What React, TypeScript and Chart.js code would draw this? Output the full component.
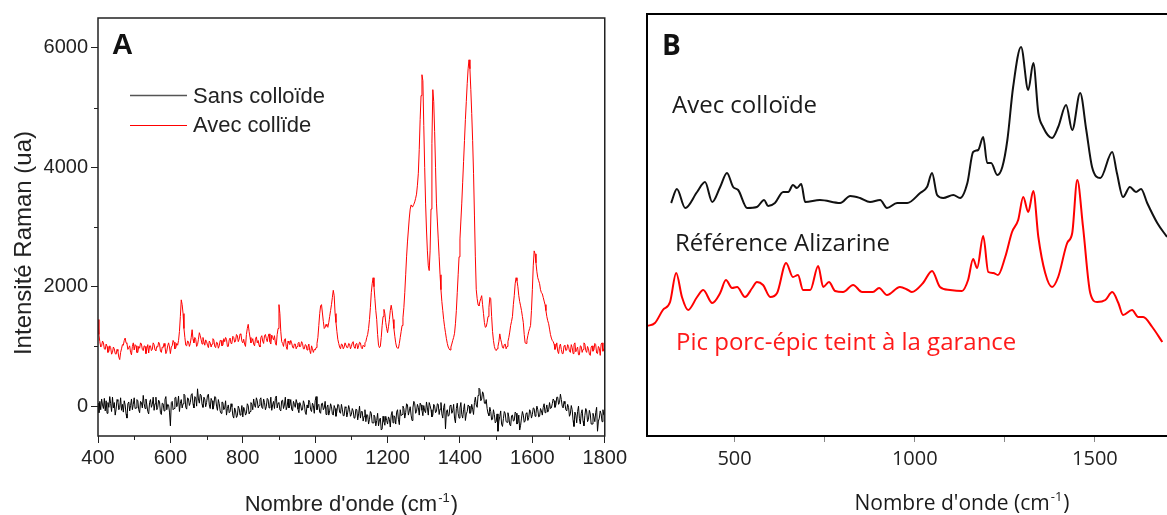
import { useEffect, useRef } from 'react';
import { Chart, registerables } from 'chart.js';

Chart.register(...registerables);

const FONT_A = '"Liberation Sans", Arial, sans-serif';
const FONT_B = '"Open Sans", "Noto Sans", sans-serif';

// ---------- Panel A data (wavenumber grid, 2.5 cm-1 step) ----------
const WAVENUMBER_A: number[] = Array.from({ length: 561 }, (_, i) => 400 + 2.5 * i);

// "Avec collïde" (red), one row = 100 cm-1
const AVEC_A: number[] = [
  1450, 1200, 1080, 990, 1010, 1090, 1060, 960, 950, 1040, 1000, 900, 920, 1010, 980, 870, 900, 990, 960, 880, 870, 950, 920, 820, 780, 900, 960, 1030, 1020, 1100, 1140, 1060, 1050, 950, 980, 1010, 900, 860, 1000, 1060,
  940, 1030, 1010, 900, 900, 1000, 970, 1060, 1040, 950, 930, 1010, 1000, 880, 960, 1030, 890, 1010, 1010, 930, 950, 1060, 1030, 940, 930, 1000, 990, 1070, 1040, 920, 900, 990, 980, 1050, 1000, 880, 920, 1010, 1060, 990,
  880, 990, 1010, 1100, 1070, 960, 980, 1050, 1020, 1100, 1250, 1500, 1780, 1700, 1550, 1300, 1150, 1020, 1010, 1090, 1080, 1000, 1050, 1150, 1280, 1120, 1060, 1150, 1120, 1000, 1030, 1120, 1230, 1180, 1110, 1040, 1150, 1080, 1020, 1110,
  1080, 1020, 980, 1090, 1060, 990, 1040, 1130, 1110, 1000, 980, 1070, 1060, 970, 1010, 1100, 1100, 1010, 1020, 1130, 1080, 1150, 1120, 1000, 1000, 1110, 1140, 1050, 1060, 1170, 1150, 1070, 1090, 1200, 1180, 1080, 1120, 1210, 1200, 1090,
  1060, 1120, 1040, 1000, 1200, 1300, 1370, 1250, 1150, 1060, 1080, 1130, 1040, 1010, 1120, 1160, 1060, 1100, 1020, 990, 1150, 1180, 1090, 1050, 1180, 1200, 1130, 1080, 1160, 1210, 1080, 1040, 1190, 1150, 1110, 1180, 1060, 1020, 1200, 1300,
  1700, 1550, 1250, 1080, 1050, 1000, 1110, 1130, 1000, 950, 1090, 1060, 1030, 1100, 1060, 990, 970, 1040, 1040, 960, 1000, 1050, 1070, 990, 1010, 1080, 1050, 960, 960, 1030, 1020, 940, 990, 1040, 930, 880, 1010, 960, 900, 950,
  940, 980, 1050, 1150, 1350, 1550, 1680, 1700, 1560, 1420, 1300, 1320, 1370, 1340, 1320, 1400, 1500, 1600, 1700, 1820, 1940, 1850, 1550, 1400, 1250, 1120, 1050, 990, 960, 1040, 1030, 960, 990, 1060, 1060, 980, 980, 1050, 1040, 960,
  1000, 1060, 1080, 990, 970, 1040, 1050, 960, 1010, 1070, 1060, 980, 960, 1020, 1000, 1060, 1080, 1150, 1200, 1300, 1450, 1650, 1900, 2050, 2150, 2000, 1800, 1600, 1450, 1200, 1020, 980, 1000, 1150, 1350, 1500, 1620, 1550, 1400, 1300,
  1230, 1330, 1450, 1600, 1690, 1600, 1450, 1300, 1170, 1060, 990, 970, 970, 1050, 1150, 1250, 1350, 1480, 1650, 1900, 2200, 2500, 2750, 2950, 3150, 3300, 3370, 3340, 3350, 3380, 3420, 3480, 3550, 3700, 3900, 4300, 4800, 5200, 5550, 5450,
  4700, 4000, 3400, 2950, 2600, 2350, 2270, 2600, 3300, 4400, 5300, 5100, 4600, 4000, 3400, 3100, 2800, 2500, 2200, 1950, 1750, 1600, 1450, 1330, 1230, 1130, 1050, 990, 960, 940, 990, 1040, 1100, 1150, 1220, 1380, 1600, 1900, 2200, 2500,
  2800, 3100, 3400, 3750, 4100, 4450, 4800, 5100, 5400, 5650, 5800, 5650, 5300, 4900, 4450, 3900, 3200, 2500, 1950, 1800, 1700, 1680, 1750, 1800, 1850, 1700, 1550, 1400, 1320, 1330, 1400, 1500, 1650, 1820, 1800, 1500, 1250, 1100, 1000, 950,
  930, 960, 1000, 1080, 1210, 1120, 1060, 980, 970, 1030, 1040, 960, 1000, 1080, 1150, 1240, 1350, 1420, 1500, 1700, 1850, 2050, 2150, 2100, 2000, 1850, 1750, 1680, 1600, 1500, 1400, 1200, 1060, 1050, 1100, 1180, 1250, 1300, 1350, 1600,
  1950, 2350, 2600, 2550, 2400, 2250, 2150, 2100, 2050, 1950, 1900, 1880, 1820, 1760, 1700, 1600, 1500, 1430, 1380, 1290, 1200, 1140, 1100, 1080, 1040, 950, 990, 1060, 920, 880, 1000, 1040, 950, 880, 880, 1010, 1020, 930, 940, 1030,
  1000, 920, 900, 1030, 980, 880, 1030, 1060, 910, 950, 990, 860, 860, 1010, 1000, 900, 950, 1060, 1040, 930, 900, 1000, 960, 870, 850, 990, 1010, 920, 940, 1050, 1030, 890, 880, 1000, 970, 850, 1040, 1060, 920, 960,
  900,
];

// "Sans colloïde" (black)
const SANS_A: number[] = [
  50, -110, 80, -60, 120, 20, -40, 130, -80, 90, -120, 60, -20, 160, 40, -90, 150, -30, 60, -150, -50, 110, 80, -60, -20, 140, -70, 30, -100, 90, 20, -130, -200, 40, 70, -80, 10, 120, -60, 30,
  140, -40, -30, 110, 90, -60, -110, 80, 60, -30, 180, 40, -40, 120, 20, -90, -130, 60, 110, -20, 30, 150, -70, 40, 150, -60, -20, 100, 70, -110, -140, 50, 40, -80, 110, 160, -60, 30, 20, -100,
  -330, 60, 80, -60, -40, 140, 150, -10, 30, 170, -90, 50, 110, -30, 40, 200, 180, -20, -50, 140, 120, 10, 60, 190, 210, 40, -30, 160, 140, 0, 290, 120, 50, 200, 180, 30, -20, 150, 120, -10,
  60, 180, 200, 20, -40, 130, 90, -50, 10, 160, 150, 0, -70, 110, 40, -80, -120, 70, 60, -60, -30, 90, -150, -40, 20, -110, -90, 40, -10, -160, -200, -30, -80, -190, -160, 0, -40, -150, -110, 10,
  -180, -20, -60, -150, -120, 40, 10, -130, -90, 60, 30, -60, 120, 10, -20, 140, 90, -30, 10, 110, 140, -20, -40, 120, 60, -60, -10, 130, 110, -30, 20, 150, -70, 20, 80, -40, 130, 170, -30, 50,
  60, -60, -80, 90, 100, -40, 20, 150, -60, -10, 120, -30, 10, 110, -50, -80, 80, 30, -20, 110, 50, -50, -110, 60, 20, -70, -60, 90, 40, -100, -140, 20, -30, 100, 60, -60, -90, 50, 10, -120,
  90, 160, -60, 10, 30, -100, -120, 40, 50, -60, -30, 80, -140, -20, 20, -150, -80, 40, -10, -130, -150, 10, -40, -170, -90, 30, 20, -100, -120, 30, -50, -160, -160, -10, -30, -180, -100, 10, -60, -170,
  -140, -40, -80, -200, -190, -50, -60, -230, -130, 0, -200, -90, -90, -250, -170, -60, -260, -140, -150, -300, -220, -90, -120, -280, -280, -150, -180, -330, -240, -120, -330, -230, -200, -400, -380, -170, -260, -320, -170, -240,
  -300, -180, -220, -350, -150, -90, -280, -160, -180, -300, -100, -60, -220, -310, -60, -160, -140, 0, -40, -200, -110, 40, 20, -150, -80, -10, -150, -240, -30, 80, 40, -120, -90, 30, -20, -150, 50, 20, -70, -160,
  10, -80, -110, 70, -30, -150, 60, 10, -60, -180, -150, 30, 0, -110, -90, 40, 30, -140, -50, 60, -130, -200, -20, 40, -380, -100, -60, -170, -150, 10, 20, -120, -80, 30, -200, -280, -40, 50, -120, -200,
  -30, 60, -140, -200, -60, 40, -240, -130, -90, 20, 0, -120, -110, 30, -50, -140, 60, 150, 20, -20, 180, 300, 280, 90, 120, 240, 200, 50, 40, 110, -40, -120, -160, -20, -90, -230, -220, -60, -140, -280,
  -260, -130, -420, -250, -170, -80, -300, -340, -210, -90, -120, -260, -270, -110, -180, -310, -330, -160, -150, -250, -240, -100, -120, -300, -280, -150, -400, -320, -200, -90, -150, -270, -250, -120, -110, -240, -190, -60, -90, -200,
  -140, -30, -40, -170, -120, 0, -60, -180, -170, -40, -80, -150, -20, 40, -110, -60, 20, -100, -60, 60, -40, -30, 40, 120, 90, -20, 20, 150, 150, 30, 60, 200, 110, 0, -30, 80, 40, -60, -80, 30,
  -20, -170, -130, 10, -60, -240, -340, -100, -150, -280, -90, 0, -210, -300, -120, -60, -250, -330, -160, -40, -80, -260, -220, -70, -130, -300, -300, -120, -180, -260, -110, -20, -420, -250, -200, -80, -130, -260, -60, -150,
  -150,
];

const X_MAJOR_A = [400, 600, 800, 1000, 1200, 1400, 1600, 1800];
const X_MINOR_A = [500, 700, 900, 1100, 1300, 1500, 1700];
const Y_MAJOR_A = [0, 2000, 4000, 6000];
const Y_MINOR_A = [1000, 3000, 5000];

// ---------- Panel B data (arbitrary intensity units) ----------
const WAVENUMBER_B_COLLOIDE = [324, 340, 363, 396, 418, 438, 460, 479, 496, 510, 535, 562, 582, 593, 612, 635, 649, 662, 673, 685, 696, 737, 793, 821, 848, 876, 904, 923, 951, 979, 1015, 1034, 1048, 1062, 1079, 1107, 1126, 1146, 1162, 1176, 1190, 1201, 1212, 1229, 1243, 1257, 1273, 1295, 1315, 1329, 1343, 1356, 1381, 1398, 1420, 1437, 1459, 1476, 1492, 1515, 1548, 1561, 1578, 1597, 1614, 1628, 1645, 1673, 1700];
const INTENSITY_B_COLLOIDE = [233, 247, 228, 244, 254, 234, 249, 263, 249, 246, 228, 229, 236, 230, 233, 244, 244, 251, 248, 252, 234, 236, 233, 240, 238, 234, 236, 228, 233, 233, 243, 249, 263, 241, 238, 241, 238, 253, 284, 286, 299, 273, 273, 261, 269, 296, 349, 389, 346, 373, 323, 309, 298, 309, 331, 306, 343, 306, 269, 258, 284, 263, 239, 249, 244, 247, 233, 213, 199];

const WAVENUMBER_B_GARANCE = [257, 279, 301, 321, 338, 354, 371, 396, 413, 438, 460, 476, 493, 507, 529, 549, 562, 579, 599, 618, 643, 662, 676, 690, 710, 732, 746, 762, 779, 801, 829, 854, 884, 901, 923, 959, 981, 992, 1023, 1048, 1070, 1098, 1131, 1148, 1162, 1173, 1190, 1204, 1218, 1231, 1251, 1270, 1287, 1301, 1315, 1329, 1343, 1362, 1381, 1398, 1423, 1437, 1451, 1467, 1487, 1506, 1529, 1548, 1565, 1578, 1603, 1620, 1634, 1659, 1687];
const INTENSITY_B_GARANCE = [110, 113, 126, 134, 163, 139, 126, 139, 146, 133, 143, 156, 148, 149, 139, 148, 154, 151, 139, 143, 173, 159, 161, 146, 146, 170, 149, 154, 145, 144, 151, 144, 144, 148, 141, 149, 146, 144, 153, 165, 149, 146, 145, 156, 177, 168, 200, 164, 163, 161, 179, 204, 216, 239, 224, 245, 199, 163, 149, 159, 193, 203, 256, 209, 143, 134, 136, 144, 133, 121, 126, 119, 119, 109, 94];

const X_TICKS_B = [500, 750, 1000, 1250, 1500];

// ---------- helpers ----------
function drawTitleSup(ctx: CanvasRenderingContext2D, cx: number, baseline: number, main: string, sup: string, tail: string, size: number, family: string, color: string) {
  ctx.save();
  ctx.fillStyle = color;
  ctx.textBaseline = 'alphabetic';
  ctx.textAlign = 'left';
  const mainFont = `${size}px ${family}`;
  const supFont = `${Math.round(size * 0.6)}px ${family}`;
  ctx.font = mainFont;
  const w1 = ctx.measureText(main).width;
  const w3 = ctx.measureText(tail).width;
  ctx.font = supFont;
  const w2 = ctx.measureText(sup).width;
  const total = w1 + w2 + w3 + 2;
  let x = cx - total / 2;
  ctx.font = mainFont;
  ctx.fillText(main, x, baseline);
  x += w1 + 1;
  ctx.font = supFont;
  ctx.fillText(sup, x, baseline - size * 0.42);
  x += w2 + 1;
  ctx.font = mainFont;
  ctx.fillText(tail, x, baseline);
  ctx.restore();
}

const decorA = {
  id: 'decorA',
  afterDraw(chart: any) {
    const { ctx, chartArea: ca, scales } = chart;
    ctx.save();
    ctx.strokeStyle = '#222';
    ctx.lineWidth = 1.5;
    ctx.strokeRect(ca.left, ca.top, ca.right - ca.left, ca.bottom - ca.top);
    ctx.lineWidth = 1;
    ctx.beginPath();
    X_MINOR_A.forEach((v) => {
      const x = Math.round(scales.x.getPixelForValue(v)) + 0.5;
      ctx.moveTo(x, ca.bottom);
      ctx.lineTo(x, ca.bottom + 4);
    });
    Y_MINOR_A.forEach((v) => {
      const y = Math.round(scales.y.getPixelForValue(v)) + 0.5;
      ctx.moveTo(ca.left, y);
      ctx.lineTo(ca.left - 4, y);
    });
    ctx.stroke();

    // panel letter
    ctx.fillStyle = '#111';
    ctx.font = `bold 29px ${FONT_A}`;
    ctx.textAlign = 'left';
    ctx.textBaseline = 'alphabetic';
    ctx.fillText('A', 112, 54);

    // legend
    ctx.lineWidth = 1.5;
    ctx.strokeStyle = '#555';
    ctx.beginPath();
    ctx.moveTo(130, 95.5);
    ctx.lineTo(187, 95.5);
    ctx.stroke();
    ctx.lineWidth = 1;
    ctx.strokeStyle = '#ff0000';
    ctx.beginPath();
    ctx.moveTo(130, 125.5);
    ctx.lineTo(187, 125.5);
    ctx.stroke();
    ctx.fillStyle = '#222';
    ctx.font = `22px ${FONT_A}`;
    ctx.fillText('Sans colloïde', 193, 103);
    ctx.fillText('Avec collïde', 193, 132);

    // y title
    ctx.save();
    ctx.translate(31, 243);
    ctx.rotate(-Math.PI / 2);
    ctx.textAlign = 'center';
    ctx.font = `24px ${FONT_A}`;
    ctx.fillText('Intensité Raman (ua)', 0, 0);
    ctx.restore();

    // x title
    drawTitleSup(ctx, (ca.left + ca.right) / 2, 511, "Nombre d'onde (cm", '-1', ')', 22, FONT_A, '#222');
    ctx.restore();
  },
};

const decorB = {
  id: 'decorB',
  afterDraw(chart: any) {
    const { ctx, chartArea: ca } = chart;
    ctx.save();
    ctx.strokeStyle = '#000';
    ctx.lineWidth = 2;
    ctx.beginPath();
    ctx.moveTo(chart.width + 5, ca.top);
    ctx.lineTo(ca.left, ca.top);
    ctx.lineTo(ca.left, ca.bottom);
    ctx.lineTo(chart.width + 5, ca.bottom);
    ctx.stroke();

    ctx.textAlign = 'left';
    ctx.textBaseline = 'alphabetic';
    ctx.fillStyle = '#111';
    ctx.font = `bold 28px ${FONT_B}`;
    ctx.fillText('B', 32, 55);

    ctx.font = `24px ${FONT_B}`;
    ctx.fillStyle = '#1a1a1a';
    ctx.fillText('Avec colloïde', 42, 113);
    ctx.fillText('Référence Alizarine', 45, 251);
    ctx.fillStyle = '#ff1a1a';
    ctx.fillText('Pic porc-épic teint à la garance', 46, 350);

    drawTitleSup(ctx, 332, 510, "Nombre d'onde (cm", '-1', ')', 21, FONT_B, '#1a1a1a');
    ctx.restore();
  },
};

export default function App() {
  const refA = useRef<HTMLCanvasElement>(null);
  const refB = useRef<HTMLCanvasElement>(null);

  useEffect(() => {
    document.body.style.margin = '0';

    const chartA = new Chart(refA.current as HTMLCanvasElement, {
      type: 'line',
      data: {
        datasets: [
          {
            label: 'Avec collïde',
            data: WAVENUMBER_A.map((x, i) => ({ x, y: AVEC_A[i] })),
            borderColor: '#ff0000',
            borderWidth: 1,
            pointRadius: 0,
            tension: 0,
          },
          {
            label: 'Sans colloïde',
            data: WAVENUMBER_A.map((x, i) => ({ x, y: SANS_A[i] })),
            borderColor: '#000000',
            borderWidth: 1,
            pointRadius: 0,
            tension: 0,
          },
        ],
      },
      options: {
        animation: false,
        responsive: false,
        events: [],
        layout: { padding: { left: 0, right: 20, top: 18, bottom: 0 } },
        plugins: { legend: { display: false }, tooltip: { enabled: false } },
        scales: {
          x: {
            type: 'linear',
            min: 400,
            max: 1800,
            afterBuildTicks: (s: any) => {
              s.ticks = X_MAJOR_A.map((v) => ({ value: v }));
            },
            afterFit: (s: any) => {
              s.height = 79;
            },
            grid: { drawOnChartArea: false, drawTicks: true, tickLength: 7, tickColor: '#222', tickWidth: 1 },
            border: { display: false },
            ticks: {
              autoSkip: false,
              maxRotation: 0,
              padding: 3,
              color: '#222',
              font: { family: FONT_A, size: 20 },
              callback: (v: any) => String(v),
            },
          },
          y: {
            type: 'linear',
            min: -500,
            max: 6500,
            afterBuildTicks: (s: any) => {
              s.ticks = Y_MAJOR_A.map((v) => ({ value: v }));
            },
            afterFit: (s: any) => {
              s.width = 98;
            },
            grid: { drawOnChartArea: false, drawTicks: true, tickLength: 7, tickColor: '#222', tickWidth: 1 },
            border: { display: false },
            ticks: {
              padding: 3,
              color: '#222',
              font: { family: FONT_A, size: 20 },
              callback: (v: any) => String(v),
            },
          },
        },
      },
      plugins: [decorA],
    } as any);

    const chartB = new Chart(refB.current as HTMLCanvasElement, {
      type: 'line',
      data: {
        datasets: [
          {
            label: 'Avec colloïde',
            data: WAVENUMBER_B_COLLOIDE.map((x, i) => ({ x, y: INTENSITY_B_COLLOIDE[i] })),
            borderColor: '#111111',
            borderWidth: 2,
            pointRadius: 0,
            cubicInterpolationMode: 'monotone',
          },
          {
            label: 'Pic porc-épic teint à la garance',
            data: WAVENUMBER_B_GARANCE.map((x, i) => ({ x, y: INTENSITY_B_GARANCE[i] })),
            borderColor: '#ff0000',
            borderWidth: 2,
            pointRadius: 0,
            cubicInterpolationMode: 'monotone',
          },
        ],
      },
      options: {
        animation: false,
        responsive: false,
        events: [],
        layout: { padding: { left: 17, right: 0, top: 14, bottom: 0 } },
        plugins: { legend: { display: false }, tooltip: { enabled: false } },
        scales: {
          x: {
            type: 'linear',
            min: 257,
            max: 1700,
            afterBuildTicks: (s: any) => {
              s.ticks = X_TICKS_B.map((v) => ({ value: v }));
            },
            afterFit: (s: any) => {
              s.height = 79;
            },
            grid: { drawOnChartArea: false, drawTicks: true, tickLength: 6, tickColor: '#888', tickWidth: 1 },
            border: { display: false },
            ticks: {
              autoSkip: false,
              maxRotation: 0,
              padding: 5,
              color: '#222',
              font: { family: FONT_B, size: 20 },
              callback: (v: any) => (v % 500 === 0 ? String(v) : ''),
            },
          },
          y: {
            type: 'linear',
            display: false,
            min: 0,
            max: 422,
          },
        },
      },
      plugins: [decorB],
    } as any);

    return () => {
      chartA.destroy();
      chartB.destroy();
    };
  }, []);

  return (
    <div style={{ position: 'relative', width: 1167, height: 515, overflow: 'hidden', background: '#ffffff' }}>
      <canvas ref={refA} width={630} height={515} style={{ position: 'absolute', left: 0, top: 0, width: 630, height: 515 }} />
      <canvas ref={refB} width={537} height={515} style={{ position: 'absolute', left: 630, top: 0, width: 537, height: 515 }} />
    </div>
  );
}
